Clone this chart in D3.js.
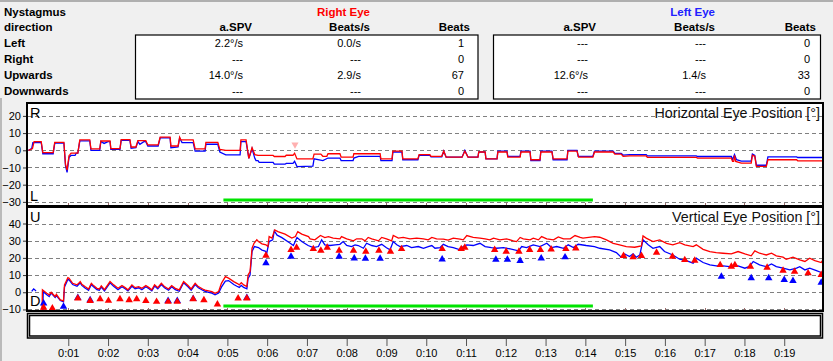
<!DOCTYPE html>
<html>
<head>
<meta charset="utf-8">
<script src="https://cdn.jsdelivr.net/npm/d3@7"></script>
<style>
  body { margin: 0; background: #f0f0f0; }
  svg { display: block; font-family: "Liberation Sans", Arial, sans-serif; }
</style>
</head>
<body>
<svg id="chart" width="833" height="361"></svg>
<script>
// ---- table values ----
var rowLabels = ["Left", "Right", "Upwards", "Downwards"];
var colHeaders = ["a.SPV", "Beats/s", "Beats"];
var rightEyeRows = [["2.2°/s", "0.0/s", "1"], ["---", "---", "0"], ["14.0°/s", "2.9/s", "67"], ["---", "---", "0"]];
var leftEyeRows = [["---", "---", "0"], ["---", "---", "0"], ["12.6°/s", "1.4/s", "33"], ["---", "---", "0"]];

// ---- axis ticks ----
var timeTicks = d3.range(1, 20);
var timeLabels = ["0:01","0:02","0:03","0:04","0:05","0:06","0:07","0:08","0:09","0:10",
                  "0:11","0:12","0:13","0:14","0:15","0:16","0:17","0:18","0:19"];
var horizTicks = [20, 10, 0, -10, -20, -30];
var vertTicks = [40, 30, 20, 10, 0, -10];

// ---- horizontal eye position [t (s), deg] ----
var rightH = [[0,0],[0.10,1],[0.14,5],[0.32,5],[0.36,-1.4],[0.62,-1.4],[0.66,4.6],[0.89,4.6],[0.93,-8],[0.97,-11.5],
  [1.02,-3],[1.04,-2.5],[1.07,-1.7],[1.24,-1.7],[1.29,6],[1.54,6],[1.57,0.8],[1.79,0.8],[1.82,5.4],[2.05,5.4],
  [2.07,1],[2.30,1],[2.33,6.2],[2.55,6.2],[2.58,1.9],[2.70,1.9],[2.75,5.6],[2.95,5.6],[3.00,3.1],[3.26,3.1],
  [3.31,7.6],[3.56,7.6],[3.58,2.5],[3.76,2.5],[3.80,7.6],[3.83,6],[4.14,6],[4.19,0.8],[4.44,0.8],[4.46,4.6],
  [4.76,4.6],[4.81,0.5],[4.96,0],[5.32,0],[5.34,6],[5.47,6],[5.54,-4.7],[5.62,1.5],[5.69,-2.5],[5.77,-3],
  [6.15,-3],[6.18,-3.6],[6.45,-3.6],[6.48,-2.9],[6.65,-2.9],[6.69,-1.7],[6.75,-5],[7.15,-5],[7.18,-2.2],[7.35,-2.2],
  [7.40,-3.5],[7.50,-3.5],[7.53,-2],[7.83,-2],[7.86,-4],[8.16,-4],[8.18,-2],[8.84,-2],[8.86,-5],[9.14,-5],
  [9.16,-0.5],[9.39,-0.5],[9.41,-5],[9.79,-5],[9.82,-2.5],[10.09,-2.5],[10.12,-3.5],[10.39,-3.5],[10.44,-0.5],[10.50,-4],
  [10.90,-4],[10.97,-0.5],[11.05,-4],[11.30,-4],[11.32,-1],[11.48,-1],[11.50,-5],[11.78,-5],[11.80,-1],[12.03,-1],
  [12.05,-4],[12.36,-4],[12.38,-1],[12.61,-1],[12.63,-5.5],[12.86,-5.5],[12.88,-1],[13.16,-1],[13.19,-5],[13.54,-5],
  [13.56,-0.5],[13.79,-0.5],[13.83,-4],[14.19,-4],[14.23,-1],[14.70,-1],[14.74,-2.2],[14.90,-2.2],[14.95,-3.5],[15.11,-3.3],
  [15.53,-3.3],[15.56,-4.1],[16.79,-4.1],[16.82,-4.5],[17.67,-4.5],[17.70,-6.5],[17.73,-6.5],[17.75,-3],[17.78,-6.5],[17.92,-7.5],
  [18.17,-7.5],[18.20,-2.9],[18.26,-3.5],[18.30,-9.4],[18.55,-9.4],[18.59,-5.5],[19.31,-5.5],[19.34,-6.1],[20.15,-6.1]];

var leftH = [[0,0],[0.08,1],[0.11,4.5],[0.32,4.5],[0.36,-2],[0.62,-2],[0.66,4.2],[0.89,4.2],[0.93,-9],[0.97,-12.8],
  [1.02,-4],[1.07,-3],[1.17,-3],[1.20,-1.7],[1.24,-1.7],[1.29,5.5],[1.54,5.5],[1.57,0],[1.79,0],[1.82,5.2],
  [1.90,4],[2.00,5],[2.05,5],[2.07,0.6],[2.30,0.6],[2.33,5.8],[2.55,5.8],[2.58,1.2],[2.70,1.5],[2.75,5],
  [2.80,3.5],[2.90,5],[2.95,5],[3.00,2.5],[3.26,2.5],[3.31,7.2],[3.56,7.2],[3.58,1.5],[3.76,2],[3.80,7.2],
  [3.86,4.5],[4.14,4.5],[4.19,-0.5],[4.44,-0.5],[4.46,3.5],[4.76,3.5],[4.81,-1],[4.96,-2.7],[5.32,-2.7],[5.34,5],
  [5.47,5],[5.54,-4.7],[5.62,1],[5.69,-4.7],[5.72,-6],[5.77,-6],[5.80,-7],[6.15,-7],[6.18,-8.1],[6.45,-8.1],
  [6.48,-7.6],[6.65,-7.6],[6.69,-6.4],[6.75,-9.5],[7.15,-9.2],[7.18,-5],[7.40,-6],[7.53,-4.5],[7.83,-4.5],[7.86,-6],
  [8.16,-6],[8.18,-4.5],[8.30,-3.5],[8.84,-3.5],[8.86,-6],[9.14,-6],[9.16,-1],[9.39,-1],[9.41,-5.5],[9.79,-5.5],
  [9.82,-3],[10.09,-3],[10.12,-3.8],[10.39,-3.8],[10.44,-0.5],[10.50,-4],[10.90,-4],[10.97,0],[11.05,-4],[11.30,-4],
  [11.32,-1],[11.48,-1],[11.50,-5],[11.78,-5],[11.80,-0.5],[12.03,-0.5],[12.05,-3.5],[12.36,-3.5],[12.38,-0.5],[12.61,-0.5],
  [12.63,-6],[12.86,-6],[12.88,-0.5],[13.16,-0.5],[13.19,-5.5],[13.54,-5.5],[13.56,0],[13.79,0],[13.82,-3.5],[14.19,-3.5],
  [14.23,-0.5],[14.70,-0.5],[14.74,-1.8],[14.90,-1.8],[14.95,-2.8],[15.11,-2.5],[15.53,-2.5],[15.56,-3.3],[16.79,-3.3],[16.82,-3.6],
  [17.67,-3.6],[17.70,-5.5],[17.75,-2.5],[17.80,-5.5],[17.92,-6.3],[18.17,-6.3],[18.20,-2.2],[18.26,-3],[18.30,-8.7],[18.55,-8.7],
  [18.59,-3.8],[19.31,-3.8],[19.34,-4.2],[20.15,-4.2]];

// ---- vertical eye position [t (s), deg] ----
var rightV = [[0.34,-12],[0.35,1.4],[0.46,-0.6],[0.52,-1.5],[0.57,0],[0.67,-2.5],[0.70,-1.2],[0.80,-4.5],[0.88,-5],[0.905,4.3],
  [0.99,8.5],[1.02,8.2],[1.11,5.2],[1.22,4.3],[1.26,5.2],[1.30,6.2],[1.34,4.7],[1.42,3.3],[1.51,1.9],[1.58,5.2],
  [1.62,4.3],[1.72,2.3],[1.78,1.9],[1.83,3.7],[1.91,1.5],[2.05,6.2],[2.14,4.3],[2.25,2.3],[2.35,3.9],[2.43,2.7],
  [2.50,1.4],[2.60,4.3],[2.68,2.7],[2.77,3.3],[2.85,2.3],[2.95,3.9],[3.03,2.7],[3.10,1.4],[3.17,4.3],[3.25,2.7],
  [3.34,5.2],[3.42,3.3],[3.52,1.9],[3.60,3.9],[3.69,2.3],[3.79,1.4],[3.90,6.2],[4.01,3.9],[4.09,1.9],[4.19,5.2],
  [4.27,3.3],[4.38,1.9],[4.44,1.2],[4.53,0.8],[4.61,0.4],[4.69,-0.6],[4.78,0.4],[4.85,5.2],[4.95,9.1],[5.03,8.2],
  [5.16,6.2],[5.24,5.2],[5.30,4.3],[5.35,5.6],[5.41,4.3],[5.49,3.3],[5.52,10],[5.57,12],[5.62,25.6],[5.67,28.5],
  [5.74,30.5],[5.78,29.5],[5.87,28.2],[5.97,27.6],[6.02,26.6],[6.05,32.4],[6.12,31.5],[6.19,36.3],[6.27,35.3],[6.45,33.8],
  [6.62,31.5],[6.71,32.4],[6.77,35.3],[6.87,33.8],[7.04,32.4],[7.08,31.1],[7.20,30.5],[7.34,33.0],[7.45,31.8],[7.54,32.4],
  [7.66,31.5],[7.83,31.1],[7.87,32.4],[8.00,31.1],[8.17,29.9],[8.25,31.1],[8.38,31.1],[8.46,29.9],[8.54,31.9],[8.63,31.1],
  [8.80,29.9],[8.88,31.9],[9.00,31.1],[9.13,29.9],[9.17,33.0],[9.30,31.5],[9.42,31.9],[9.59,31.1],[9.76,31.5],[9.93,31.1],
  [10.05,30.5],[10.14,31.9],[10.26,31.1],[10.43,30.9],[10.55,30.3],[10.68,31.5],[10.85,30.9],[10.93,30.5],[11.02,33.0],[11.18,31.9],
  [11.35,31.5],[11.48,31.1],[11.60,30.5],[11.69,31.5],[11.85,30.5],[12.02,31.1],[12.19,29.9],[12.27,29.5],[12.36,31.9],[12.44,31.1],
  [12.61,30.5],[12.69,31.5],[12.82,30.5],[12.90,32.4],[13.03,31.1],[13.20,30.5],[13.32,32.2],[13.45,31.1],[13.62,31.1],[13.74,33.0],
  [13.87,31.9],[13.94,31.5],[14.23,32.4],[14.36,32.0],[14.53,30.5],[14.70,28.5],[14.86,27.6],[15.03,26.6],[15.24,26.2],[15.41,27.0],
  [15.45,32.8],[15.53,31.5],[15.70,29.5],[15.87,30.5],[16.04,28.5],[16.20,27.6],[16.37,28.9],[16.50,27.6],[16.71,26.6],[16.79,27.6],
  [16.96,25.0],[17.13,23.7],[17.29,23.1],[17.46,22.7],[17.67,22.3],[17.84,23.7],[18.01,22.3],[18.17,21.2],[18.26,24.1],[18.38,22.7],
  [18.55,21.7],[18.68,22.7],[18.80,21.2],[18.97,20.4],[19.05,19.2],[19.22,20.4],[19.39,18.8],[19.52,17.9],[19.64,19.8],[19.77,18.4],
  [19.93,17.3],[19.98,19.2],[20.10,18]];

var leftV = [[0.08,0.5],[0.13,2.0],[0.19,0.8],null,
  [0.36,-12],[0.37,0.3],[0.46,-1.5],[0.52,-2.5],[0.57,-0.5],[0.67,-3],[0.70,-2],[0.80,-4.8],[0.88,-5.5],[0.905,3],
  [0.99,7.5],[1.02,7.2],[1.11,4.5],[1.22,3.5],[1.26,4.5],[1.30,5.5],[1.34,4],[1.42,2.5],[1.51,1.2],[1.58,4.5],
  [1.62,3.5],[1.72,1.5],[1.78,1.2],[1.83,3],[1.91,0.8],[2.05,5.5],[2.14,3.5],[2.25,1.5],[2.35,3.2],[2.43,2],
  [2.50,0.8],[2.60,3.5],[2.68,2],[2.77,2.6],[2.85,1.5],[2.95,3.2],[3.03,2],[3.10,0.8],[3.17,3.6],[3.25,2],
  [3.34,4.5],[3.42,2.6],[3.52,1.2],[3.60,3.2],[3.69,1.5],[3.79,0.6],[3.90,5.5],[4.01,3.2],[4.09,1.2],[4.19,4.5],
  [4.27,2.6],[4.38,1.2],[4.44,0.5],[4.53,0],[4.61,-0.5],[4.69,-1.5],[4.78,-0.5],[4.85,3],[4.95,6.5],[5.03,6.8],
  [5.16,4.5],[5.24,3.5],[5.30,2.8],[5.35,4],[5.41,2.8],[5.49,2],[5.52,8],[5.57,10],[5.62,23.7],[5.68,26.6],
  [5.78,26],[5.87,24.5],[5.95,24],[5.99,22.7],[6.05,29.5],[6.14,30.5],[6.18,35.7],[6.25,33.2],[6.37,31.8],[6.58,28.5],
  [6.66,27.2],[6.75,31.8],[6.87,29.5],[7.03,27.2],[7.16,26.0],[7.29,26.6],[7.37,30.5],[7.45,27.6],[7.58,27.2],[7.71,27.6],
  [7.83,27.9],[7.91,29.5],[8.00,27.2],[8.12,26.6],[8.21,27.6],[8.29,27.2],[8.42,25.6],[8.50,28.5],[8.63,27.2],[8.75,26.6],
  [8.88,27.9],[9.00,25.9],[9.09,24.7],[9.17,29.5],[9.26,27.6],[9.34,26.6],[9.51,27.2],[9.63,26.0],[9.80,26.6],[9.93,25.6],
  [10.05,26.6],[10.14,27.2],[10.22,25.6],[10.35,26.0],[10.43,27.9],[10.55,26.6],[10.68,26.0],[10.85,24.7],[10.93,26.6],[11.02,27.6],
  [11.18,27.2],[11.35,28.5],[11.48,26.6],[11.64,26.0],[11.77,25.6],[11.94,26.0],[12.11,25.2],[12.32,24.1],[12.40,26.6],[12.52,26.0],
  [12.69,27.6],[12.86,26.6],[13.03,28.5],[13.15,26.0],[13.28,26.6],[13.45,25.6],[13.57,27.6],[13.70,26.0],[13.82,27.9],[14.02,27.2],
  [14.23,26.6],[14.36,25.6],[14.61,24.7],[14.78,23.1],[14.90,20.4],[14.99,22.3],[15.11,20.8],[15.20,22.3],[15.28,20.4],[15.37,21.7],
  [15.45,30.5],[15.58,27.6],[15.70,25.6],[15.87,26.6],[15.99,23.7],[16.20,21.7],[16.37,19.2],[16.54,18.4],[16.71,16.9],[16.79,19.8],
  [16.96,17.3],[17.13,15.9],[17.29,15.3],[17.46,15.3],[17.63,14.9],[17.84,15.3],[18.01,14.0],[18.13,15.0],[18.22,17.9],[18.38,15.9],
  [18.55,14.9],[18.68,16.5],[18.80,14.9],[18.97,14.0],[19.14,13.0],[19.31,14.0],[19.39,14.9],[19.52,13.0],[19.64,14.0],[19.81,12.6],
  [19.93,11.5],[19.98,11.1],[20.10,11]];

// ---- detected beats (triangles) ----
var rightBeats = [[0.38,-8.9],[0.60,-9.3],[1.24,-3.5],[1.55,-5],[1.80,-4],[2.01,-4.9],[2.30,-4],[2.53,-4.5],[2.72,-4],[2.95,-5],
  [3.22,-5.5],[3.51,-5.5],[3.74,-5.5],[4.14,-4],[4.41,-4.5],[4.75,-7],[5.27,-3.5],[5.49,-3.5],[5.97,21.4],[6.60,24.7],
  [6.74,26],[7.16,25.2],[7.35,24.3],[7.51,26],[7.81,24.3],[8.17,24.3],[8.48,23.7],[8.81,24.3],[9.10,23.7],[9.38,25.2],
  [10.40,25.2],[10.88,25.2],[10.97,26],[11.72,24.7],[12.01,23.7],[12.33,23.7],[12.60,24.7],[12.87,24.7],[13.14,25],[13.51,25.2],
  [13.76,25.6],[14.96,21.2],[15.20,20.4],[15.41,21.2],[15.79,23.1],[16.19,20.8],[16.50,18.8],[16.75,18.4],[17.39,15.9],[17.67,15],
  [17.76,15.9],[18.15,15],[18.57,14.4],[18.97,12.6],[19.26,12],[19.60,11.1],[19.93,10.1]];
var leftBeats = [[0.38,-6.4],[0.88,-8.3],[1.24,-3.2],[1.55,-4.5],[3.51,-5],[3.74,-5],[4.14,-3.8],[5.49,-3.2],[5.97,17],[6.60,20.8],
  [7.81,20.8],[8.19,19.8],[8.47,19.6],[8.84,19.6],[10.40,19.2],[11.75,19.0],[12.04,19.0],[12.36,18.3],[12.89,19.8],[13.49,20.4],
  [17.42,9.1],[18.17,8.2],[18.61,8.2],[19.00,7.2],[19.22,6.6],[19.93,5.6]];
var markedH = [[6.70,3.3]];

// ---- stimulus interval (green bars) ----
var stimulus = [4.90, 14.19];

var svg = d3.select('#chart');

// window frame lines
svg.append('line').attr('x1', 0).attr('x2', 833).attr('y1', 1).attr('y2', 1)
    .attr('stroke', '#9a9a9a').attr('stroke-width', 1.5);
svg.append('line').attr('x1', 1).attr('x2', 1).attr('y1', 98).attr('y2', 361)
    .attr('stroke', '#a8a8a8').attr('stroke-width', 1.5);

// ---- table ----
var tbl = svg.append('g').style('font-size', '11.5px').attr('fill', '#000');
tbl.append('text').attr('x', 4).attr('y', 15.5).attr('font-weight', 'bold').text('Nystagmus');
tbl.append('text').attr('x', 4).attr('y', 31).attr('font-weight', 'bold').text('direction');
var rowY = [47, 63, 79, 95];
rowLabels.forEach(function(r, i) {
  tbl.append('text').attr('x', 4).attr('y', rowY[i]).attr('font-weight', 'bold').text(r);
});

function eyeTable(title, color, boxX0, boxX1, headRight, valRight, rows) {
  tbl.append('rect').attr('x', boxX0).attr('y', 35).attr('width', boxX1 - boxX0).attr('height', 64)
      .attr('fill', '#fff').attr('stroke', '#000').attr('stroke-width', 1.2);
  tbl.append('text').attr('x', headRight[1]).attr('y', 15.5).attr('text-anchor', 'end')
      .attr('font-weight', 'bold').attr('fill', color).text(title);
  colHeaders.forEach(function(h, j) {
    tbl.append('text').attr('x', headRight[j]).attr('y', 31).attr('text-anchor', 'end')
        .attr('font-weight', 'bold').text(h);
  });
  rows.forEach(function(row, i) {
    row.forEach(function(v, j) {
      tbl.append('text').attr('x', valRight[j]).attr('y', rowY[i]).attr('text-anchor', 'end')
          .style('font-size', '11px').text(v);
    });
  });
}
eyeTable('Right Eye', '#ff0000', 135.5, 478, [252, 370, 470], [243, 361, 464], rightEyeRows);
eyeTable('Left Eye', '#2020ff', 493.5, 820.5, [596, 715, 816], [588, 706, 810], leftEyeRows);

// ---- scales ----
var x = d3.scaleLinear().domain([0, 20]).range([28.5, 824]);
var yH = d3.scaleLinear().domain([-32.4, 27.5]).range([206, 103]);
var yV = d3.scaleLinear().domain([-10.9, 49.6]).range([311, 207]);

function panel(id, y, ticks, title, topLetter, botLetter, greenLevel) {
  var top = y.range()[1], bot = y.range()[0];
  svg.append('clipPath').attr('id', id).append('rect')
      .attr('x', 28).attr('y', top).attr('width', 795).attr('height', bot - top);
  svg.append('rect').attr('x', 27).attr('y', top).attr('width', 796).attr('height', bot - top)
      .attr('fill', '#fff');
  var g = svg.append('g').attr('clip-path', 'url(#' + id + ')');
  g.selectAll('line.grid').data(ticks).enter().append('line')
      .attr('x1', 28).attr('x2', 823)
      .attr('y1', function(d) { return Math.round(y(d)) + 0.5; })
      .attr('y2', function(d) { return Math.round(y(d)) + 0.5; })
      .attr('stroke', '#808080').attr('stroke-dasharray', '4,3');
  // small time marks along the lower border
  g.selectAll('line.mark').data(timeTicks).enter().append('line')
      .attr('x1', function(d) { return Math.round(x(d)) + 0.5; })
      .attr('x2', function(d) { return Math.round(x(d)) + 0.5; })
      .attr('y1', bot - 3).attr('y2', bot)
      .attr('stroke', '#9a6a6a');
  svg.append('text').attr('x', 820).attr('y', top + 15).attr('text-anchor', 'end')
      .style('font-size', '14.3px').attr('fill', '#101010').text(title);
  svg.append('text').attr('x', 30).attr('y', top + 15).style('font-size', '14.5px').text(topLetter);
  svg.append('text').attr('x', 30).attr('y', bot - 5).style('font-size', '14.5px').text(botLetter);
  g.append('line').attr('x1', x(stimulus[0])).attr('x2', x(stimulus[1]))
      .attr('y1', y(greenLevel)).attr('y2', y(greenLevel))
      .attr('stroke', '#00e400').attr('stroke-width', 3);
  var ax = svg.append('g').attr('transform', 'translate(27,0)')
      .call(d3.axisLeft(y).tickValues(ticks).tickSize(4).tickPadding(2));
  ax.select('.domain').remove();
  ax.selectAll('text').style('font-size', '11px').attr('fill', '#000')
      .style('font-family', '"Liberation Sans", Arial, sans-serif');
  ax.selectAll('line').attr('stroke', '#333');
  return g;
}

var line = function(y) {
  return d3.line().defined(function(d) { return d !== null; })
      .x(function(d) { return x(d[0]); }).y(function(d) { return y(d[1]); });
};

// ---- horizontal panel ----
var gH = panel('clipH', yH, horizTicks, 'Horizontal Eye Position [°]', 'R', 'L', -28.9);
gH.append('path').datum(leftH).attr('d', line(yH)).attr('fill', 'none').attr('stroke', '#0000ff').attr('stroke-width', 1.3);
gH.append('path').datum(rightH).attr('d', line(yH)).attr('fill', 'none').attr('stroke', '#ff0000').attr('stroke-width', 1.3);
gH.selectAll('path.mk').data(markedH).enter().append('path')
    .attr('d', d3.symbol(d3.symbolTriangle, 22))
    .attr('transform', function(d) { return 'translate(' + x(d[0]) + ',' + yH(d[1]) + ') rotate(180)'; })
    .attr('fill', '#ffb0b0');

// ---- vertical panel ----
var gV = panel('clipV', yV, vertTicks, 'Vertical Eye Position [°]', 'U', 'D', -8);
gV.append('path').datum(leftV).attr('d', line(yV)).attr('fill', 'none').attr('stroke', '#0000ff').attr('stroke-width', 1.3);
gV.append('path').datum(rightV).attr('d', line(yV)).attr('fill', 'none').attr('stroke', '#ff0000').attr('stroke-width', 1.3);
gV.selectAll('path.lb').data(leftBeats).enter().append('path')
    .attr('d', d3.symbol(d3.symbolTriangle, 24))
    .attr('transform', function(d) { return 'translate(' + x(d[0]) + ',' + yV(d[1]) + ')'; })
    .attr('fill', '#0000ff');
gV.selectAll('path.rb').data(rightBeats).enter().append('path')
    .attr('d', d3.symbol(d3.symbolTriangle, 24))
    .attr('transform', function(d) { return 'translate(' + x(d[0]) + ',' + yV(d[1]) + ')'; })
    .attr('fill', '#ff0000');

// panel frames
[yH, yV].forEach(function(y) {
  var top = y.range()[1], bot = y.range()[0];
  svg.append('rect').attr('x', 27).attr('y', top).attr('width', 796).attr('height', bot - top)
      .attr('fill', 'none').attr('stroke', '#000').attr('stroke-width', 2);
});

// ---- empty lower box (double frame) ----
svg.append('rect').attr('x', 27.5).attr('y', 313.5).attr('width', 795).attr('height', 24.5)
    .attr('fill', '#fff').attr('stroke', '#000').attr('stroke-width', 1.5);
svg.append('rect').attr('x', 29.5).attr('y', 315.5).attr('width', 791).attr('height', 20.5)
    .attr('fill', 'none').attr('stroke', '#000').attr('stroke-width', 1.5);

// ---- time axis ----
var xa = svg.append('g').attr('transform', 'translate(0,339)')
    .call(d3.axisBottom(x).tickValues(timeTicks)
      .tickFormat(function(d) { return timeLabels[d - 1]; })
      .tickSize(7).tickPadding(3));
xa.select('.domain').remove();
xa.selectAll('line').attr('stroke', '#555');
xa.selectAll('text').style('font-size', '11px').attr('fill', '#000')
    .style('font-family', '"Liberation Sans", Arial, sans-serif');
</script>
</body>
</html>
